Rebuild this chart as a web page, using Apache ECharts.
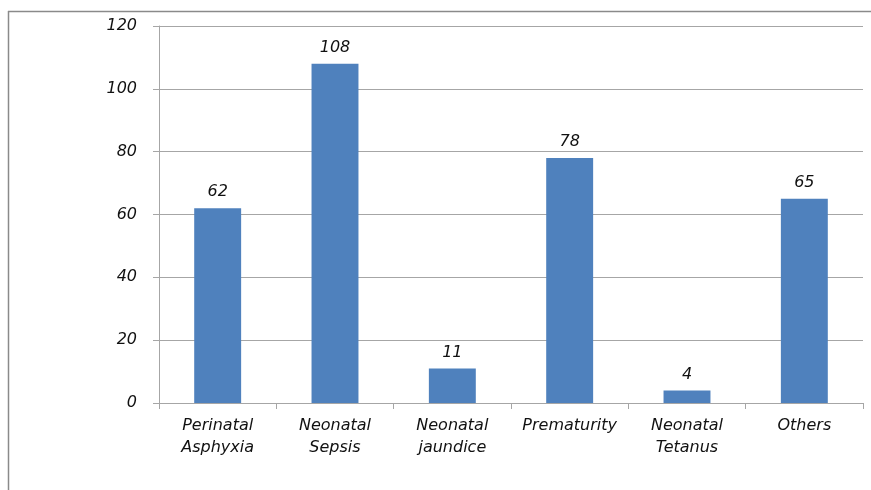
<!DOCTYPE html>
<html><head><meta charset="utf-8">
<script src="https://cdn.jsdelivr.net/npm/echarts@6/dist/echarts.min.js"></script>
<style>html,body{margin:0;padding:0;background:#fff}#c{width:871px;height:490px}</style>
</head><body><div id="c"></div>
<script>
const categories = ['Perinatal\nAsphyxia', 'Neonatal\nSepsis', 'Neonatal\njaundice', 'Prematurity', 'Neonatal\nTetanus', 'Others'];
const values = [62, 108, 11, 78, 4, 65];
const yTicks = [0, 20, 40, 60, 80, 100, 120];

const chart = echarts.init(document.getElementById('c'), null, {renderer: 'canvas'});
const font = '"DejaVu Sans", sans-serif';
const fs = 16;
chart.setOption({
  animation: false,
  graphic: [
    {type: 'line', shape: {x1: 8, y1: 11.5, x2: 871, y2: 11.5}, style: {stroke: '#8a8a8a', lineWidth: 1.5}},
    {type: 'line', shape: {x1: 8.5, y1: 11, x2: 8.5, y2: 490}, style: {stroke: '#8a8a8a', lineWidth: 1.5}}
  ],
  grid: {left: 159, right: 8, top: 26, bottom: 87, containLabel: false},
  xAxis: {
    type: 'category', data: categories,
    axisLine: {lineStyle: {color: '#a6a6a6'}},
    axisTick: {show: true, length: 6, alignWithLabel: false, lineStyle: {color: '#a6a6a6'}},
    axisLabel: {color: '#111', fontStyle: 'italic', fontSize: fs, fontFamily: font, margin: 12, lineHeight: 22, interval: 0}
  },
  yAxis: {
    type: 'value', min: yTicks[0], max: yTicks[yTicks.length - 1], interval: 20,
    axisLine: {show: true, lineStyle: {color: '#a6a6a6'}},
    axisTick: {show: true, length: 6, lineStyle: {color: '#a6a6a6'}},
    splitLine: {lineStyle: {color: '#a6a6a6'}},
    axisLabel: {color: '#111', fontStyle: 'italic', fontSize: fs, fontFamily: font, margin: 22}
  },
  series: [{
    type: 'bar', data: values, barWidth: '40%',
    itemStyle: {color: '#4f81bd'},
    label: {show: true, position: 'top', distance: 8, color: '#111', fontStyle: 'italic', fontSize: fs, fontFamily: font}
  }]
});
</script></body></html>
